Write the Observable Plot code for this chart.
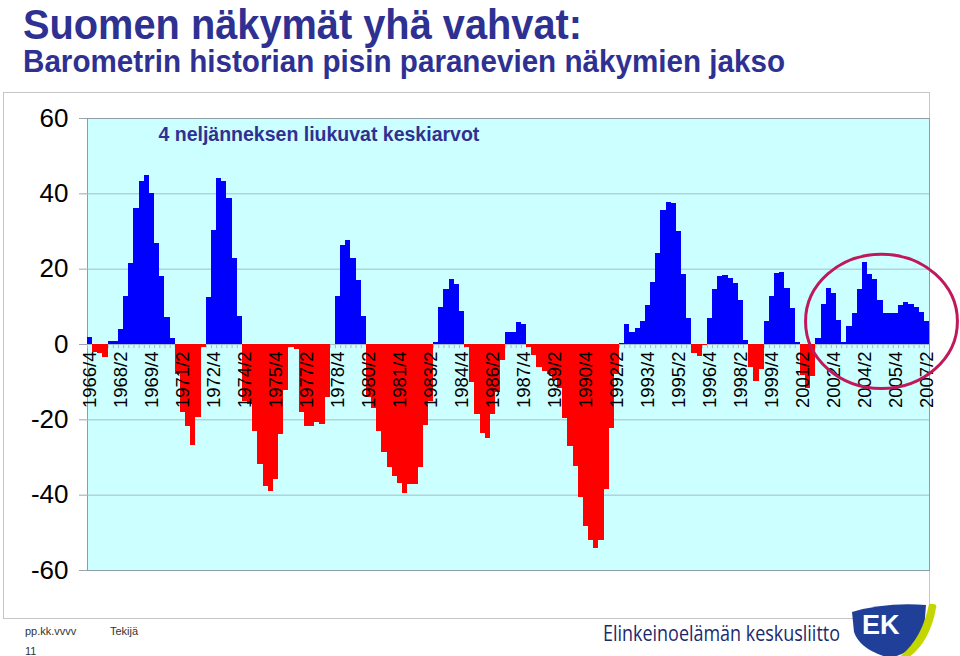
<!DOCTYPE html>
<html><head><meta charset="utf-8">
<script src="https://cdn.jsdelivr.net/npm/d3@7"></script>
<script src="https://cdn.jsdelivr.net/npm/@observablehq/plot@0.6"></script>
<style>
html,body{margin:0;padding:0;background:#fff;}
#page{position:relative;width:960px;height:656px;overflow:hidden;font-family:"Liberation Sans",Arial,sans-serif;}
.fit{position:absolute;white-space:nowrap;transform-origin:0 0;}
#title{left:23px;top:4px;font-size:43px;line-height:40px;font-weight:bold;color:#2e3192;}
#subtitle{left:23px;top:46px;font-size:31px;line-height:31px;font-weight:bold;color:#2e3192;}
#box{position:absolute;left:3px;top:92px;width:925px;height:525px;border:1px solid #c6c6c6;}
#chart{position:absolute;left:0;top:92px;}
.foot{position:absolute;font-size:11px;line-height:12px;color:#333;white-space:nowrap;}
#company{left:603px;top:620px;font-size:22px;line-height:24px;color:#1b2a6b;font-family:"Open Sans",sans-serif;}
#logo{position:absolute;left:846px;top:602px;}
</style></head><body>
<div id="page">
  <div id="title" class="fit" data-w="559">Suomen näkymät yhä vahvat:</div>
  <div id="subtitle" class="fit" data-w="762">Barometrin historian pisin paranevien näkymien jakso</div>
  <div id="box"></div>
  <div id="chart"></div>
  <div class="foot" style="left:25px;top:625px;">pp.kk.vvvv</div>
  <div class="foot" style="left:110px;top:625px;">Tekijä</div>
  <div class="foot" style="left:25px;top:645px;">11</div>
  <div id="company" class="fit" data-w="237">Elinkeinoelämän keskusliitto</div>
  <svg id="logo" width="92" height="56" viewBox="0 0 92 56">
    <path d="M6,10 Q40,0 80,3 L78,28 Q74,48 44,56 Q14,48 8,30 Z" fill="#1f3f99"/>
    <path d="M83,2 Q92,1 90,6 Q84,40 62,56 L52,56 Q76,38 83,2 Z" fill="#c4d600"/>
    <text x="16" y="32" font-family="Liberation Sans, Arial" font-weight="bold" font-size="27" fill="#fff">EK</text>
  </svg>
</div>
<script>
// ---- data ----
const firstQuarter = {year: 1966, quarter: 4};
const values = [
  1.8, -2.1, -2.5, -3.5, 0.7, 0.7, 4.1, 12.8, 21.4, 36.0, 43.4, 44.9, 40.1, 26.8, 18.0, 7.2, 1.5,
  -8.0, -18.0, -21.9, -26.9, -19.5, -0.9, 12.6, 30.3, 44.2, 43.4, 38.8, 22.9, 7.4,
  -15.0, -16.0, -23.1, -31.9, -37.6, -39.0, -35.9, -24.0, -12.2, -0.9, -1.2,
  -18.0, -21.7, -21.7, -20.8, -21.2, -14.0, 0.0,
  12.8, 26.3, 27.6, 22.7, 17.0, 7.4,
  -14.0, -17.0, -23.0, -28.8, -32.6, -35.0, -36.8, -39.5, -37.2, -37.2, -32.6, -21.5, -15.0,
  0.4, 9.9, 14.5, 17.2, 15.9, 8.8,
  -0.7, -10.0, -18.5, -23.7, -25.0, -18.5, -12.8, -4.2,
  3.1, 3.1, 5.8, 5.2,
  -0.7, -3.0, -6.0, -7.3, -8.0, -9.5, -11.8, -19.7, -27.1, -32.4, -40.7, -48.3, -52.0, -54.1, -52.0, -38.5, -22.3, -8.0,
  0.3, 5.2, 3.3, 4.3, 6.1, 10.4, 16.4, 24.1, 35.6, 37.8, 37.5, 30.0, 18.6, 6.8,
  -2.5, -3.2, -0.3,
  6.8, 14.5, 18.1, 18.3, 17.6, 16.3, 11.7, 1.1,
  -6.0, -9.8, -6.7,
  6.0, 12.8, 18.9, 19.1, 15.0, 9.5, 0.4,
  -8.1, -11.7, -8.6,
  1.5, 10.6, 15.0, 13.5, 6.3, 0.4, 4.7, 8.2, 14.5, 21.7, 18.6, 17.2, 11.8, 8.1, 8.1, 8.1, 10.4, 11.2, 10.6, 9.7, 8.6, 6.1
];
const tickLabels = ["1966/4","1968/2","1969/4","1971/2","1972/4","1974/2","1975/4","1977/2","1978/4","1980/2",
  "1981/4","1983/2","1984/4","1986/2","1987/4","1989/2","1990/4","1992/2","1993/4","1995/2","1996/4","1998/2",
  "1999/4","2001/2","2002/4","2004/2","2005/4","2007/2"];
const yTicks = [60, 40, 20, 0, -20, -40, -60];
const noteText = "4 neljänneksen liukuvat keskiarvot";
const highlight = {quarter: "2005/1", offsetQuarters: 0.3, value: 6, rxQuarters: 14.7, ryValue: 17.8};

// ---- build ----
const quarters = values.map((_, i) => {
  const t = firstQuarter.year * 4 + (firstQuarter.quarter - 1) + i;
  return Math.floor(t / 4) + "/" + (t % 4 + 1);
});
const rows = quarters.map((q, i) => ({q, v: values[i]}));
const W = 960, H = 528, ML = 87, MR = 31, MT = 26, MB = 50;
const bw = (W - ML - MR) / quarters.length;
const gridColor = "#a3bcc6";

const chart = Plot.plot({
  width: W, height: H,
  marginLeft: ML, marginRight: MR, marginTop: MT, marginBottom: MB,
  style: {background: "transparent", overflow: "visible", fontFamily: '"Liberation Sans", Arial, sans-serif', color: "black"},
  x: {type: "band", domain: quarters, padding: 0, round: false, axis: null},
  y: {domain: [-60, 60], axis: null},
  marks: [
    Plot.frame({fill: "#ccffff", stroke: "#8e9ea6"}),
    Plot.gridY(yTicks.filter(d => Math.abs(d) < 60), {stroke: gridColor, strokeOpacity: 1}),
    Plot.axisY(yTicks, {anchor: "left", tickSize: 8, tickPadding: 11, fontSize: 26, stroke: "#9aa6ab", fill: "black", label: null, tickFormat: d => String(d)}),
    Plot.ruleY([0], {stroke: gridColor}),
    Plot.ruleX(quarters, {x: d => d, y1: 0, y2: -1.1, dx: -bw / 2, stroke: gridColor}),
    Plot.barY(rows.filter(d => d.v >= 0), {x: "q", y: "v", fill: "#0000ff", shapeRendering: "crispEdges"}),
    Plot.barY(rows.filter(d => d.v < 0), {x: "q", y: "v", fill: "#ff0000", shapeRendering: "crispEdges"}),
    Plot.text(tickLabels, {x: d => d, y: 0, text: d => d, rotate: -90, textAnchor: "end", dy: 7, fontSize: 18.5, fill: "black"}),
    Plot.text([noteText], {frameAnchor: "top-left", text: d => d, dx: 71, dy: 9, textAnchor: "start", lineAnchor: "top", fontSize: 19.5, fontWeight: "bold", fill: "#2e3192"})
  ]
});
document.getElementById("chart").appendChild(chart);

// highlight ellipse, placed through the plot's own scales
{
  const xs = chart.scale("x"), ys = chart.scale("y");
  const step = xs.step || xs.bandwidth;
  const cx = xs.apply(highlight.quarter) + (0.5 + highlight.offsetQuarters) * step;
  const cy = ys.apply(highlight.value);
  const rx = highlight.rxQuarters * step;
  const ry = Math.abs(ys.apply(0) - ys.apply(highlight.ryValue));
  d3.select(chart).append("ellipse")
    .attr("cx", cx).attr("cy", cy).attr("rx", rx).attr("ry", ry)
    .attr("fill", "none").attr("stroke", "#c0185a").attr("stroke-width", 3);
}

document.querySelectorAll(".fit").forEach(el => {
  const target = +el.dataset.w;
  const w = el.getBoundingClientRect().width;
  if (w > 0) el.style.transform = "scaleX(" + (target / w) + ")";
});
</script>
</body></html>
